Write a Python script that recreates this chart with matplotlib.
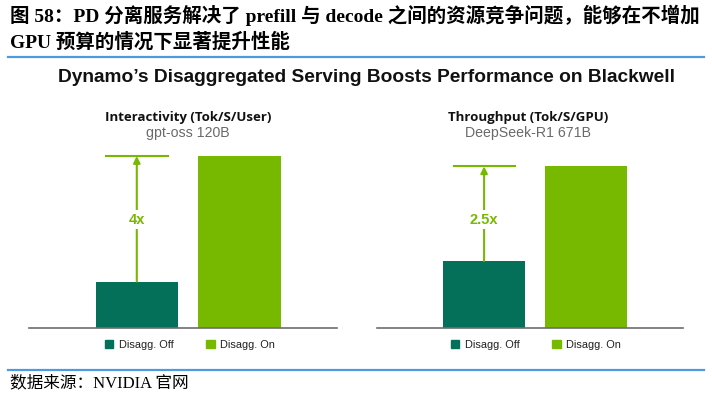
import matplotlib.pyplot as plt
from matplotlib.lines import Line2D
from matplotlib.patches import Patch

# data (bar heights relative to the tallest bar = 100)
categories = ["Disagg. Off", "Disagg. On"]
inter_vals = [27, 100]
thru_vals = [39, 94]
inter_label = "4x"
thru_label = "2.5x"

dark = "#04705a"
green = "#76b900"

W, H = 712, 400
fig = plt.figure(figsize=(W / 100, H / 100), dpi=100)
fig.patch.set_facecolor("white")

cn = ["Liberation Serif", "Noto Sans CJK SC"]


def fx(px):
    return px / W


def fy(py):
    return 1 - py / H


# header
fig.text(fx(10), fy(15), "图 58：PD 分离服务解决了 prefill 与 decode 之间的资源竞争问题，能够在不增加",
         family=cn, weight="bold", fontsize=14, va="center", ha="left")
fig.text(fx(10), fy(42), "GPU 预算的情况下显著提升性能",
         family=cn, weight="bold", fontsize=14, va="center", ha="left")
fig.add_artist(Line2D([fx(8), fx(704)], [fy(56.5), fy(56.5)], color="#4a9be0", lw=1.6))
fig.add_artist(Line2D([fx(8), fx(704)], [fy(370), fy(370)], color="#4a9be0", lw=1.6))
fig.text(fx(10), fy(383), "数据来源：NVIDIA 官网", family=cn, fontsize=12, va="center", ha="left")

fig.text(fx(366.5), fy(78), "Dynamo’s Disaggregated Serving Boosts Performance on Blackwell",
         family="Liberation Sans", weight="bold", fontsize=13.75, va="center", ha="center",
         color="#111111")


def panel(left_px, right_px, vals, label, title, sub, tcx, legx):
    ax = fig.add_axes([fx(left_px), fy(328), fx(right_px - left_px), 172 / H])
    ax.bar([0, 1], vals, width=0.8, color=[dark, green])
    ax.set_xlim(-1.05, 1.95)
    ax.set_ylim(0, 100)
    for s in ["top", "left", "right"]:
        ax.spines[s].set_visible(False)
    ax.spines["bottom"].set_color("#6d6d6d")
    ax.spines["bottom"].set_linewidth(1.2)
    ax.set_xticks([])
    ax.set_yticks([])
    # multiplier arrow
    top = vals[1]
    ax.plot([-0.3, 0.3], [top, top], color=green, lw=1.5, clip_on=False)
    ax.annotate("", xy=(0, top), xytext=(0, vals[0]),
                arrowprops=dict(arrowstyle="-|>", color=green, lw=1.5,
                                mutation_scale=10, shrinkA=0, shrinkB=0))
    ax.text(0, 63, label, ha="center", va="center", color=green, weight="bold",
            fontsize=10.5, family="Liberation Sans",
            bbox=dict(facecolor="white", edgecolor="none", pad=2))
    fig.text(fx(tcx), fy(117), title, ha="center", va="center", weight="bold",
             fontsize=9.5, family="Open Sans", color="#111111")
    fig.text(fx(tcx), fy(133.5), sub, ha="center", va="center",
             fontsize=10.2, family="Liberation Sans", color="#6a6a6a")
    handles = [Patch(color=dark, label=categories[0]), Patch(color=green, label=categories[1])]
    leg = ax.legend(handles=handles, ncol=2, frameon=False, loc="center",
                    bbox_to_anchor=((legx - left_px) / (right_px - left_px), -17 / 172),
                    handlelength=0.75, handleheight=0.75, handletextpad=0.5,
                    columnspacing=3.0, prop={"family": "Liberation Sans", "size": 7.9})
    for t in leg.get_texts():
        t.set_color("#222222")
    return ax


panel(29, 337, inter_vals, inter_label, "Interactivity (Tok/S/User)", "gpt-oss 120B", 188, 190)
panel(377, 683, thru_vals, thru_label, "Throughput (Tok/S/GPU)", "DeepSeek-R1 671B", 528, 536)

fig.savefig("out.png", dpi=100, facecolor="white")
